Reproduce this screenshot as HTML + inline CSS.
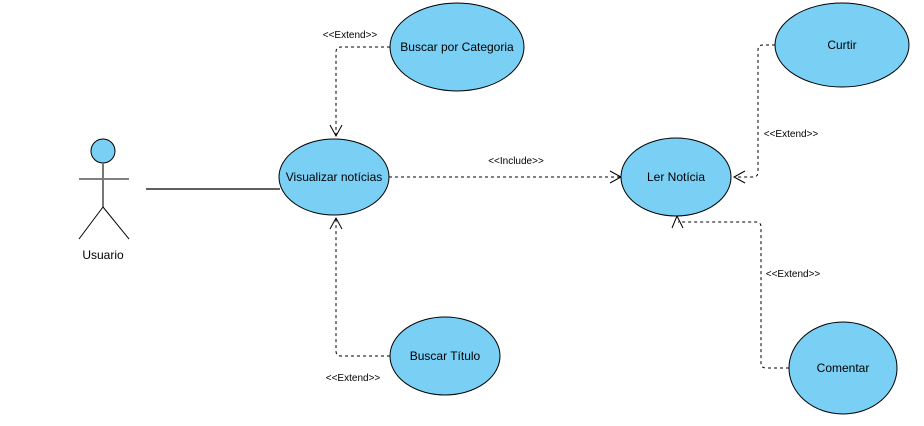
<!DOCTYPE html>
<html><head><meta charset="utf-8"><style>
html,body{margin:0;padding:0;background:#fff;}
svg{display:block;}
text{font-family:"Liberation Sans",sans-serif;fill:#000;}
</style></head><body>
<svg width="924" height="426" viewBox="0 0 924 426" xmlns="http://www.w3.org/2000/svg">
<g fill="none" stroke="#000" stroke-width="1" stroke-dasharray="3,3">
<path d="M390,47 H341 Q336,47 336,52 V136"/>
<path d="M389,177 H621"/>
<path d="M775,45 H763 Q758,45 758,50 V172 Q758,177 753,177 H734"/>
<path d="M789,368 H766 Q761,368 761,363 V227 Q761,222 756,222 H678"/>
<path d="M390,356 H341 Q336,356 336,351 V218"/>
</g>
<g fill="none" stroke="#000" stroke-width="1">
<path d="M330,125 L336,136 L342,125"/>
<path d="M610,171 L621,177 L610,183"/>
<path d="M745,171 L734,177 L745,183"/>
<path d="M672,228 L677,216 L683,228"/>
<path d="M330,229 L336,218 L342,229"/>
<path d="M146,189 H280" stroke-width="1.2"/>
</g>
<g fill="#7acff4" stroke="#000" stroke-width="1">
<ellipse cx="457" cy="47" rx="67" ry="44"/>
<ellipse cx="334" cy="177" rx="55" ry="38"/>
<ellipse cx="676" cy="177" rx="55" ry="39"/>
<ellipse cx="842" cy="45" rx="67" ry="42"/>
<ellipse cx="843" cy="368" rx="54" ry="46"/>
<ellipse cx="445" cy="356" rx="55" ry="39"/>
<circle cx="103" cy="151" r="12"/>
</g>
<g stroke="#000" stroke-width="1" fill="none">
<path d="M79,179 H129"/>
<path d="M103,163 V207" stroke="#777" stroke-width="2"/>
<path d="M103,207 L79,239 M103,207 L129,239"/>
</g>
<g font-size="12" text-anchor="middle">
<text x="457" y="51">Buscar por Categoria</text>
<text x="334" y="181">Visualizar notícias</text>
<text x="676" y="181">Ler Notícia</text>
<text x="842" y="49">Curtir</text>
<text x="843" y="372">Comentar</text>
<text x="445" y="360">Buscar Título</text>
<text x="103" y="259">Usuario</text>
</g>
<g font-size="10" text-anchor="middle">
<text x="350" y="38">&lt;&lt;Extend&gt;&gt;</text>
<text x="516" y="164">&lt;&lt;Include&gt;&gt;</text>
<text x="791" y="137">&lt;&lt;Extend&gt;&gt;</text>
<text x="793" y="277">&lt;&lt;Extend&gt;&gt;</text>
<text x="353" y="381">&lt;&lt;Extend&gt;&gt;</text>
</g>
</svg>
</body></html>
